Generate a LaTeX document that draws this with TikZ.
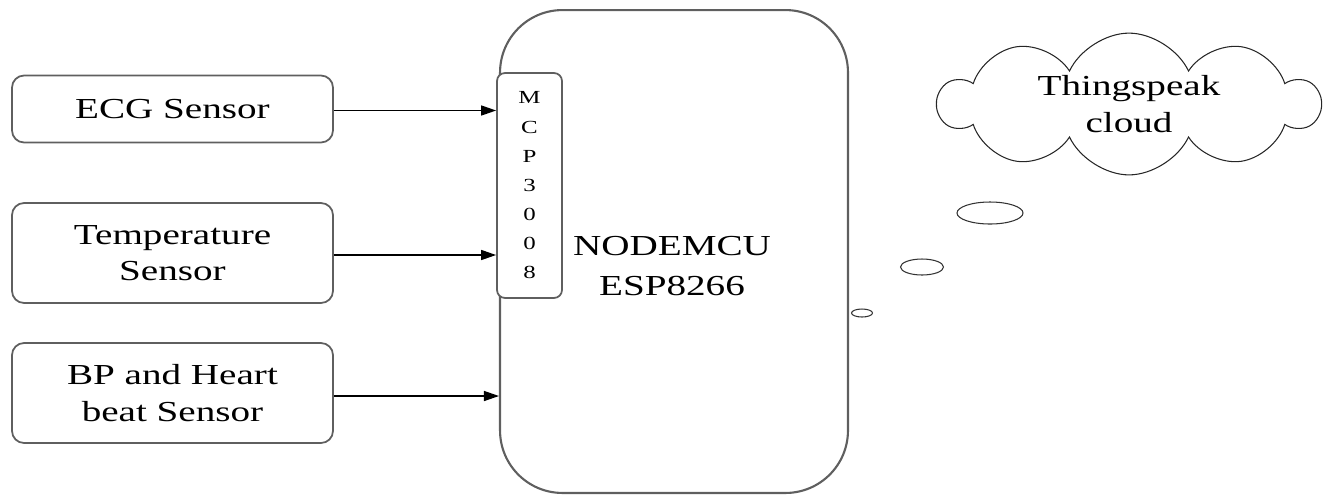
\documentclass[tikz,border=0pt]{standalone}
\usepackage{fontspec}
\setmainfont{LiberationSerif}[Extension=.ttf, UprightFont=*-Regular, FakeStretch=1.35]
\usetikzlibrary{arrows.meta, positioning, shapes.geometric, shapes.symbols}
\definecolor{edge}{RGB}{95,95,95}

\begin{document}
\begin{tikzpicture}[x=0.02cm, y=-0.02cm,
    every node/.style={font=\fontsize{16.5}{20.8}\selectfont},
    sensorbox/.style={draw=edge, line width=1pt, rounded corners=0.24cm,
      minimum width=6.42cm, align=center},
    link/.style={black, line width=0.8pt, -{Triangle[length=3mm, width=2mm]}},
    bubble/.style={ellipse, draw=black!80, line width=0.6pt, inner sep=0pt}]
  \useasboundingbox (0,0) rectangle (1334,495);
  % sensors
  \node[sensorbox, minimum height=1.34cm] (ecg) at (172.5,109) {ECG Sensor};
  \node[sensorbox, minimum height=2cm] (temp) at (172.5,253) {Temperature\\Sensor};
  \node[sensorbox, minimum height=2cm] (bp) at (172.5,393) {BP and Heart\\beat Sensor};
  % controller
  \node[draw=edge, line width=1.2pt, rounded corners=1.25cm, minimum width=6.96cm,
    minimum height=9.66cm] (mcu) at (674,251.5) {};
  \node[align=center, font=\fontsize{16.5}{22.5}\selectfont] (mculabel)
    at (672,266) {NODEMCU\\ESP8266};
  \node[draw=edge, fill=white, line width=1pt, rounded corners=0.16cm,
    minimum width=1.3cm, minimum height=4.5cm, inner sep=0pt, align=center,
    font=\fontsize{10.5}{16.6}\selectfont] (mcp) at (529.5,185.5) {M\\C\\P\\3\\0\\0\\8};
  % connections
  \draw[link] ([yshift=-0.03cm]ecg.east) -- ([yshift=-0.03cm]ecg.east -| mcp.west);
  \draw[link] ([yshift=-0.04cm]temp.east) -- ([yshift=-0.04cm]temp.east -| mcp.west);
  \draw[link] ([yshift=-0.06cm]bp.east) -- ([yshift=-0.06cm]bp.east -| mcu.west);
  % cloud
  \node[cloud, draw=black!85, line width=0.6pt, cloud puffs=10, cloud puff arc=130,
    aspect=2.7, minimum width=7.6cm, minimum height=2.7cm, align=center,
    inner sep=0pt] (cloud) at (1129,104) {Thingspeak\\cloud};
  \node[bubble, minimum width=1.32cm, minimum height=0.44cm] (b1) at (990,213) {};
  \node[bubble, minimum width=0.86cm, minimum height=0.32cm] (b2) at (922,267) {};
  \node[bubble, minimum width=0.42cm, minimum height=0.16cm] (b3) at (862,313) {};
\end{tikzpicture}
\end{document}
